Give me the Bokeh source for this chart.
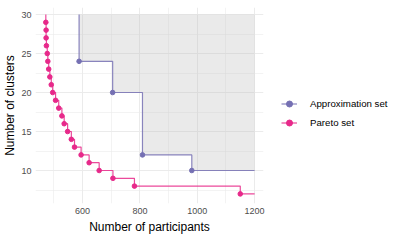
from bokeh.plotting import figure
from bokeh.models import FixedTicker, Legend, LegendItem, Range1d
from bokeh.embed import file_html
from bokeh.resources import INLINE

# ---- data ----
approx_participants = [588, 705, 809, 981]
approx_clusters = [24, 20, 12, 10]
pareto_participants = [472, 473, 473, 474, 477, 479, 482, 486, 491, 496, 506, 517,
                       528, 536, 548, 561, 572, 595, 623, 658, 706, 781, 1150]
pareto_clusters = [29, 28, 27, 26, 25, 24, 23, 22, 21, 20, 19, 18,
                   17, 16, 15, 14, 13, 12, 11, 10, 9, 8, 7]
x_ticks = [600, 800, 1000, 1200]
x_minor = [500, 700, 900, 1100]
y_ticks = [10, 15, 20, 25, 30]
y_minor = [7.5, 12.5, 17.5, 22.5, 27.5]
x_limit = 1200   # right bound of the reference region
y_limit = 30     # top bound of the reference region

PURPLE = "#7570b3"
PINK = "#e7298a"
FONT = "Liberation Sans"

p = figure(frame_width=228, frame_height=196, output_backend="svg", toolbar_location=None,
           x_range=Range1d(436, 1231), y_range=Range1d(5.77, 30.9),
           min_border_left=0, min_border_right=127, min_border_top=7, min_border_bottom=0)
p.outline_line_color = None
p.background_fill_color = "white"

# grids
p.xaxis.ticker = FixedTicker(ticks=x_ticks, minor_ticks=x_minor)
p.yaxis.ticker = FixedTicker(ticks=y_ticks, minor_ticks=y_minor)
for g in (p.xgrid, p.ygrid):
    g.grid_line_color = "#ebebeb"
    g.grid_line_width = 1
    g.minor_grid_line_color = "#ebebeb"
    g.minor_grid_line_width = 0.6

for ax in (p.xaxis, p.yaxis):
    ax.axis_line_color = None
    ax.major_tick_line_color = None
    ax.minor_tick_line_color = None
    ax.major_tick_out = 0
    ax.major_tick_in = 0
    ax.minor_tick_out = 0
    ax.minor_tick_in = 0
    ax.major_label_text_font = FONT
    ax.major_label_text_font_size = "9px"
    ax.major_label_text_color = "#4d4d4d"
    ax.axis_label_text_font = FONT
    ax.axis_label_text_font_size = "12px"
    ax.axis_label_text_font_style = "normal"
    ax.axis_label_text_color = "black"
p.xaxis.major_label_standoff = 4
p.xaxis.axis_label_standoff = 3
p.yaxis.major_label_standoff = 4
p.yaxis.axis_label_standoff = 1
p.xaxis.axis_label = "Number of participants"
p.yaxis.axis_label = "Number of clusters"

# dominated region of the approximation set
poly_x, poly_y = [], []
prev_y = y_limit
for xv, yv in zip(approx_participants, approx_clusters):
    poly_x += [xv, xv]
    poly_y += [prev_y, yv]
    prev_y = yv
poly_x += [x_limit, x_limit]
poly_y += [prev_y, y_limit]
p.patch(poly_x, poly_y, fill_color="#bebebe", fill_alpha=0.33, line_color=None)

# step lines
ax_x = [approx_participants[0]] + approx_participants + [x_limit]
ax_y = [y_limit] + approx_clusters + [approx_clusters[-1]]
a_line = p.step(ax_x, ax_y, mode="after", line_color=PURPLE, line_width=1.2, line_alpha=0.85)
a_pts = p.scatter(approx_participants, approx_clusters, size=4.6, color=PURPLE)

pa_x = [pareto_participants[0]] + pareto_participants + [x_limit]
pa_y = [y_limit] + pareto_clusters + [pareto_clusters[-1]]
p_line = p.step(pa_x, pa_y, mode="after", line_color=PINK, line_width=1.2, line_alpha=0.85)
p_pts = p.scatter(pareto_participants, pareto_clusters, size=4.6, color=PINK)

legend = Legend(items=[LegendItem(label="Approximation set", renderers=[a_line, a_pts]),
                       LegendItem(label="Pareto set", renderers=[p_line, p_pts])],
                location=(18, 73), orientation="vertical",
                glyph_width=16, glyph_height=15, label_height=15, spacing=4,
                padding=0, margin=0, label_standoff=13,
                label_text_font=FONT, label_text_font_size="9.7px", label_text_color="black",
                border_line_color=None, background_fill_alpha=0)
p.add_layout(legend, "right")

open("out.html", "w").write(file_html(p, INLINE))
